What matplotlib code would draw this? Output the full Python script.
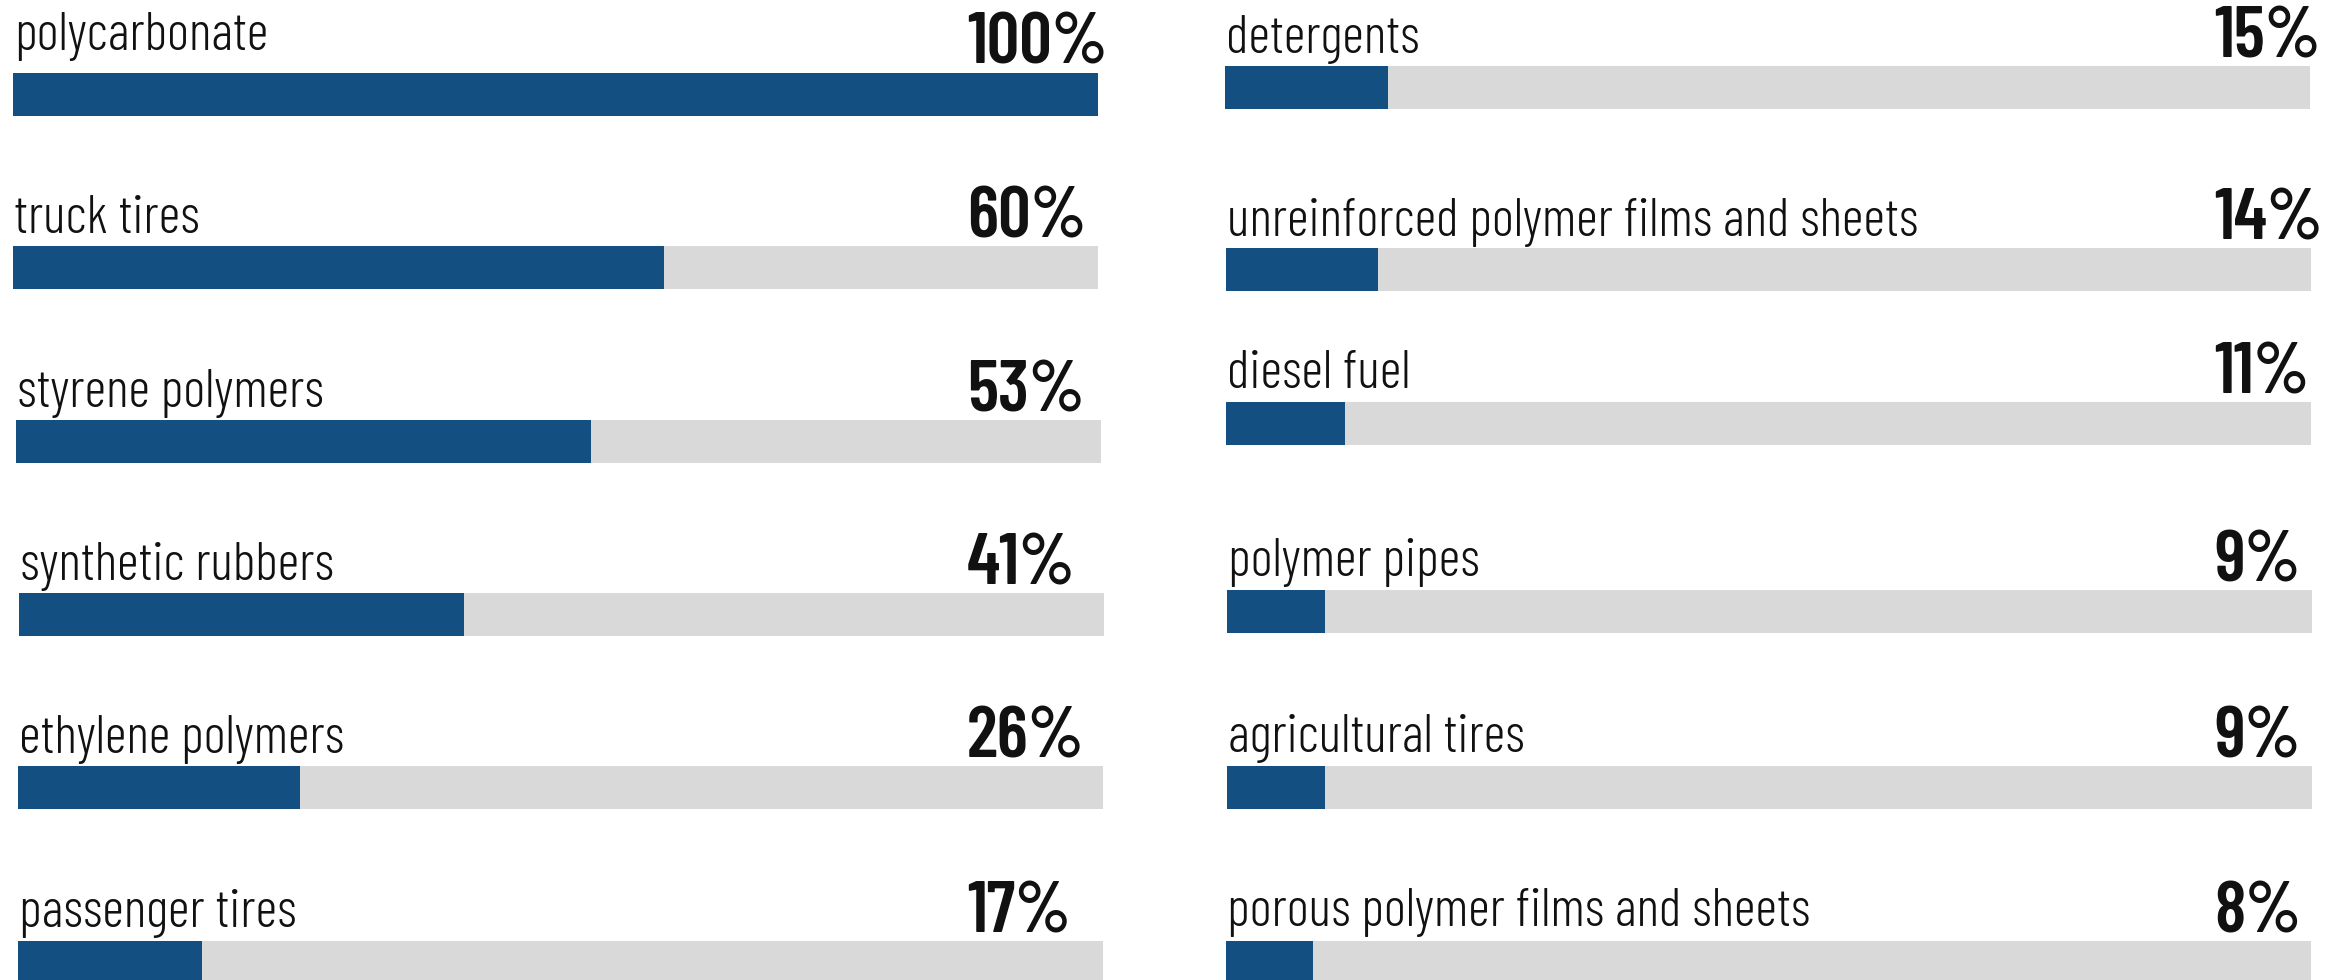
import matplotlib
matplotlib.use("Agg")
import matplotlib.pyplot as plt

plt.rcParams["font.family"] = ["Barlow Condensed", "DejaVu Sans"]

# data
left_labels = ["polycarbonate", "truck tires", "styrene polymers",
               "synthetic rubbers", "ethylene polymers", "passenger tires"]
left_values = [100, 60, 53, 41, 26, 17]
right_labels = ["detergents", "unreinforced polymer films and sheets", "diesel fuel",
                "polymer pipes", "agricultural tires", "porous polymer films and sheets"]
right_values = [15, 14, 11, 9, 9, 8]

BLUE = "#134f80"
GREY = "#d9d9d9"
W, H = 2343, 980

# layout in pixels (bar left, bar top, label gap above bar) for each row
left_x = [13, 13, 16, 19, 18, 18]
left_top = [73, 246, 420, 593, 766, 941]
left_gap = [23, 13, 13, 13, 13, 14]
right_x = [1225, 1226, 1226, 1227, 1227, 1226]
right_top = [66, 248, 402, 590, 766, 941]
right_gap = [13, 12, 14, 14, 14, 15]
bar_w = 1085
bar_h = 43
pct_x = [967, 2214]

fig = plt.figure(figsize=(W / 100, H / 100), dpi=100)


def draw_cell(label, value, x0, top, gap, px):
    ax = fig.add_axes([x0 / W, 1 - (top + bar_h) / H, bar_w / W, bar_h / H])
    ax.barh(0, 100, height=1, color=GREY)
    ax.barh(0, value, height=1, color=BLUE)
    ax.set_xlim(0, 100)
    ax.set_ylim(-0.5, 0.5)
    ax.axis("off")
    fig.text((x0 + 1) / W, 1 - (top - gap) / H, label, fontsize=38.5,
             weight=300, va="baseline", ha="left", color="#111111")
    fig.text(px / W, 1 - (top - 9) / H, f"{value}%", fontsize=52,
             weight=600, va="baseline", ha="left", color="#111111")


for i in range(len(left_labels)):
    draw_cell(left_labels[i], left_values[i], left_x[i], left_top[i], left_gap[i], pct_x[0])
for i in range(len(right_labels)):
    draw_cell(right_labels[i], right_values[i], right_x[i], right_top[i], right_gap[i], pct_x[1])

fig.savefig("out.png", dpi=100, facecolor="white")
